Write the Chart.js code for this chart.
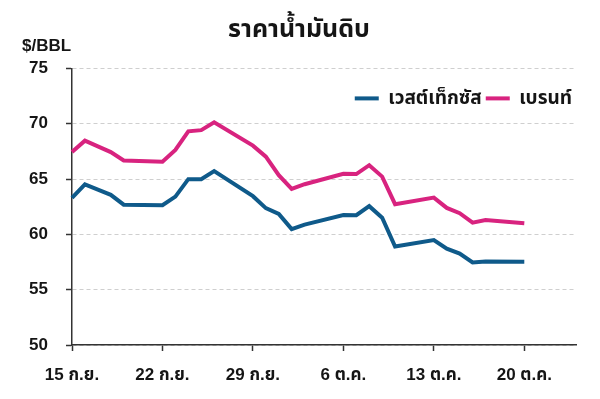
<!DOCTYPE html>
<html>
<head>
<meta charset="utf-8">
<script src="https://cdn.jsdelivr.net/npm/chart.js@4"></script>
<style>
  body { margin: 0; background: #fff; }
  #wrap { width: 600px; height: 399px; }
</style>
</head>
<body>
<div id="wrap"><canvas id="oilChart" width="600" height="399"></canvas></div>
<script>
// every calendar day 15 Sep - 24 Oct, weekends left empty
const dayLabels = [
  '15 ก.ย.', '16 ก.ย.', '17 ก.ย.', '18 ก.ย.', '19 ก.ย.', '20 ก.ย.', '21 ก.ย.',
  '22 ก.ย.', '23 ก.ย.', '24 ก.ย.', '25 ก.ย.', '26 ก.ย.', '27 ก.ย.', '28 ก.ย.',
  '29 ก.ย.', '30 ก.ย.', '1 ต.ค.', '2 ต.ค.', '3 ต.ค.', '4 ต.ค.', '5 ต.ค.',
  '6 ต.ค.', '7 ต.ค.', '8 ต.ค.', '9 ต.ค.', '10 ต.ค.', '11 ต.ค.', '12 ต.ค.',
  '13 ต.ค.', '14 ต.ค.', '15 ต.ค.', '16 ต.ค.', '17 ต.ค.', '18 ต.ค.', '19 ต.ค.',
  '20 ต.ค.', '21 ต.ค.', '22 ต.ค.', '23 ต.ค.', '24 ต.ค.'
];
const tickLabels = ['15 ก.ย.', '22 ก.ย.', '29 ก.ย.', '6 ต.ค.', '13 ต.ค.', '20 ต.ค.'];

const wti = [
  63.30, 64.52, 64.05, 63.57, 62.68, null, null,
  62.64, 63.41, 64.99, 64.98, 65.72, null, null,
  63.45, 62.37, 61.85, 60.48, 60.88, null, null,
  61.75, 61.73, 62.55, 61.51, 58.90, null, null,
  59.49, 58.70, 58.27, 57.46, 57.54, null, null,
  57.52, null, null, null, null
];
const brent = [
  67.44, 68.47, 67.95, 67.44, 66.68, null, null,
  66.57, 67.63, 69.31, 69.42, 70.13, null, null,
  68.02, 67.02, 65.35, 64.11, 64.53, null, null,
  65.47, 65.45, 66.25, 65.22, 62.73, null, null,
  63.32, 62.39, 61.91, 61.06, 61.29, null, null,
  61.01, null, null, null, null
];

const yTicks = [50, 55, 60, 65, 70, 75];

const fontFamily = "'Liberation Sans', 'Noto Sans Thai', 'Noto Sans', sans-serif";
const ink = '#151515';

// legend sits inside the plot, top right, without taking layout space
const legendInside = {
    id: 'legendInside',
    afterInit(chart) {
        const lg = chart.legend;
        const fit = lg.fit.bind(lg);
        lg.fit = function () { fit(); this.height = 0; };
    },
    afterLayout(chart) {
        const lg = chart.legend;
        lg.top = chart.chartArea.top + 16.5;
        lg.bottom = lg.top + 30;
    }
};

const ctx = document.getElementById('oilChart').getContext('2d');

new Chart(ctx, {
    type: 'line',
    data: {
        labels: dayLabels,
        datasets: [{
            label: 'เวสต์เท็กซัส',
            data: wti,
            borderColor: '#0f5a8a',
            backgroundColor: '#0f5a8a',
            borderWidth: 4,
            pointRadius: 0,
            tension: 0,
            spanGaps: true
        }, {
            label: 'เบรนท์',
            data: brent,
            borderColor: '#d8237f',
            backgroundColor: '#d8237f',
            borderWidth: 4,
            pointRadius: 0,
            tension: 0,
            spanGaps: true
        }]
    },
    plugins: [legendInside],
    options: {
        responsive: false,
        animation: false,
        layout: {
            padding: { left: 22, right: 24, top: 0, bottom: 13 }
        },
        scales: {
            x: {
                afterFit: function (scale) {
                    scale.height = 41;
                },
                ticks: {
                    autoSkip: false,
                    maxRotation: 0,
                    padding: 14,
                    color: ink,
                    font: { family: fontFamily, size: 17, weight: 'bold' },
                    callback: function (value, index) {
                        const lab = dayLabels[index];
                        return tickLabels.includes(lab) ? lab : null;
                    }
                },
                grid: {
                    drawOnChartArea: false,
                    drawTicks: true,
                    tickLength: 6,
                    tickColor: '#333',
                    tickWidth: 1.5
                },
                border: { color: '#333', width: 1.5 }
            },
            y: {
                min: 50,
                max: 75,
                afterBuildTicks: function (scale) {
                    scale.ticks = yTicks.map(v => ({ value: v }));
                },
                afterFit: function (scale) {
                    scale.width = 50;
                },
                ticks: {
                    padding: 18,
                    color: ink,
                    font: { family: fontFamily, size: 17, weight: 'bold' }
                },
                grid: {
                    color: '#cfcfcf',
                    lineWidth: 1,
                    tickLength: 6,
                    tickColor: '#333',
                    tickWidth: 1.5
                },
                border: { color: '#333', width: 1.5, dash: [4, 3] }
            }
        },
        plugins: {
            title: {
                display: true,
                text: 'ราคาน้ำมันดิบ',
                color: ink,
                font: { family: fontFamily, size: 25, weight: 'bold' },
                padding: { top: 15, bottom: -9 }
            },
            subtitle: {
                display: true,
                text: '$/BBL',
                align: 'start',
                color: ink,
                font: { family: fontFamily, size: 17, weight: 'bold' },
                padding: { top: 0, bottom: 12 }
            },
            legend: {
                position: 'top',
                align: 'end',
                labels: {
                    usePointStyle: true,
                    pointStyle: 'line',
                    pointStyleWidth: 24,
                    padding: 4,
                    color: ink,
                    font: { family: fontFamily, size: 19, weight: 'bold' }
                }
            },
            tooltip: { enabled: false }
        }
    }
});
</script>
</body>
</html>
